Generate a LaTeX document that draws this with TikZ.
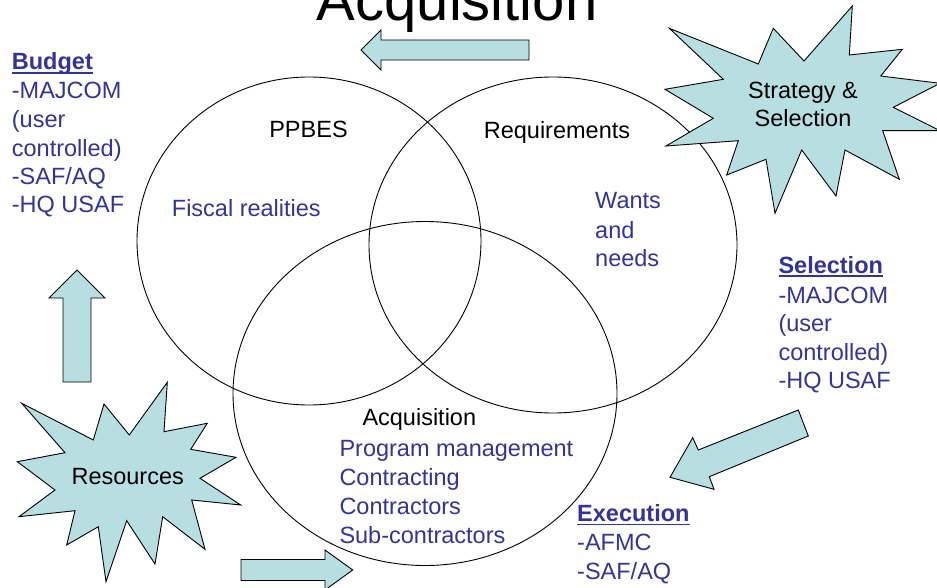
\documentclass[tikz,border=0pt]{standalone}
\usepackage{fontspec}
\setmainfont{Liberation Sans}
\definecolor{shapefill}{RGB}{183,222,224}
\definecolor{txtblue}{RGB}{51,51,153}
\newcommand{\ulbold}[1]{\setbox0\hbox{\textbf{#1}}\rlap{\rule[-3.6pt]{\wd0}{1.7pt}}\box0}
\tikzset{
  blob/.style={fill=shapefill, draw=black, line width=0.9pt, line join=miter},
  ring/.style={draw=black, line width=0.9pt},
  lbl/.style={font=\fontsize{23.5}{28.7}\selectfont, inner sep=0pt, anchor=base west},
  bluetxt/.style={lbl, text=txtblue},
  blacktxt/.style={lbl, text=black}
}
\begin{document}
\begin{tikzpicture}[x=1pt,y=-1pt]
\useasboundingbox (0,0) rectangle (937,588);
\fill[white] (0,0) rectangle (937,588);

% circles
\draw[ring] (309,241) ellipse [x radius=172, y radius=164];
\draw[ring] (553,245) ellipse [x radius=184, y radius=168];
\draw[ring] (425,393.5) ellipse [x radius=192, y radius=172];

% title
\node[blacktxt, font=\fontsize{58}{60}\selectfont] (title) at (316.7,20.7) {Acquisition};

% arrows
\draw[blob] (529,40) -- (381,40) -- (381,30) -- (361,50) -- (381,70) -- (381,60) -- (529,60) -- cycle;
\draw[blob] (63,382) -- (63,298) -- (49,298) -- (77,270) -- (105,298) -- (91,298) -- (91,382) -- cycle;
\draw[blob] (241,559.5) -- (325,559.5) -- (325,550) -- (352.7,570) -- (325,590) -- (325,580.5) -- (241,580.5) -- cycle;
\draw[blob] (798.3,410) -- (808.3,436) -- (709.3,476.7) -- (714,489.3) -- (670,477.3) -- (692.7,437.7) -- (698.3,450) -- cycle;

% Strategy & Selection star
\draw[blob] (669.3,28.3) -- (758.3,64) -- (773.3,28.3) -- (804,61) -- (852.3,6) -- (849.3,55)
  -- (902.3,49.3) -- (880.7,76) -- (940,83.3) -- (893.3,107.3) -- (940,130.7) -- (882.7,130.7)
  -- (899.3,179.3) -- (845,150) -- (836,196) -- (801.7,150) -- (775,213.3) -- (766,159.3)
  -- (726.7,175) -- (738.3,140.7) -- (666,146) -- (713.3,118.3) -- (665,89.3) -- (723.3,79.3) -- cycle;
\node[blacktxt, anchor=base] (strat1) at (803,98.3) {Strategy \&};
\node[blacktxt, anchor=base] (strat2) at (803,126.7) {Selection};

% Resources star
\draw[blob] (21.7,403.3) -- (93.3,440) -- (104,404) -- (129.3,435) -- (167.3,382.3) -- (164,431.7)
  -- (207.3,423.3) -- (190.7,449.3) -- (236,457.3) -- (200,478.3) -- (240.7,505) -- (191.7,500)
  -- (205,549.3) -- (162.7,516.7) -- (155,564) -- (126.7,520.7) -- (106,581.7) -- (98.3,526.7)
  -- (66.7,545) -- (75,510.7) -- (19,516.7) -- (55,490) -- (17.3,461.7) -- (65,452.7) -- cycle;
\node[blacktxt, anchor=base] (res) at (127.7,484) {Resources};

% circle labels
\node[blacktxt, anchor=base] (ppbes) at (308.5,137.3) {PPBES};
\node[blacktxt, anchor=base] (req) at (557,138.3) {Requirements};
\node[blacktxt] (acq) at (362.3,425) {Acquisition};
\node[bluetxt] (fiscal) at (171.7,216.7) {Fiscal realities};
\node[bluetxt] (wants1) at (595,209) {Wants};
\node[bluetxt] (wants2) at (595,238.3) {and};
\node[bluetxt] (wants3) at (595,266.7) {needs};
\node[bluetxt] (prog1) at (339.3,456.7) {Program management};
\node[bluetxt] (prog2) at (339.3,485.7) {Contracting};
\node[bluetxt] (prog3) at (339.3,514) {Contractors};
\node[bluetxt] (prog4) at (339.3,543.3) {Sub-contractors};

% Budget block
\node[bluetxt] (bud1) at (11.7,70) {\ulbold{Budget}};
\node[bluetxt] (bud2) at (11.7,99) {-MAJCOM};
\node[bluetxt] (bud3) at (11.7,127.7) {(user};
\node[bluetxt] (bud4) at (11.7,156.7) {controlled)};
\node[bluetxt] (bud5) at (11.7,185) {-SAF/AQ};
\node[bluetxt] (bud6) at (11.7,213) {-HQ USAF};

% Selection block
\node[bluetxt] (sel1) at (778.3,273.3) {\ulbold{Selection}};
\node[bluetxt] (sel2) at (778.3,303.3) {-MAJCOM};
\node[bluetxt] (sel3) at (778.3,331.7) {(user};
\node[bluetxt] (sel4) at (778.3,360) {controlled)};
\node[bluetxt] (sel5) at (778.3,388.3) {-HQ USAF};

% Execution block
\node[bluetxt] (exe1) at (577,521.7) {\ulbold{Execution}};
\node[bluetxt] (exe2) at (577,550.7) {-AFMC};
\node[bluetxt] (exe3) at (577,579) {-SAF/AQ};
\end{tikzpicture}
\end{document}
